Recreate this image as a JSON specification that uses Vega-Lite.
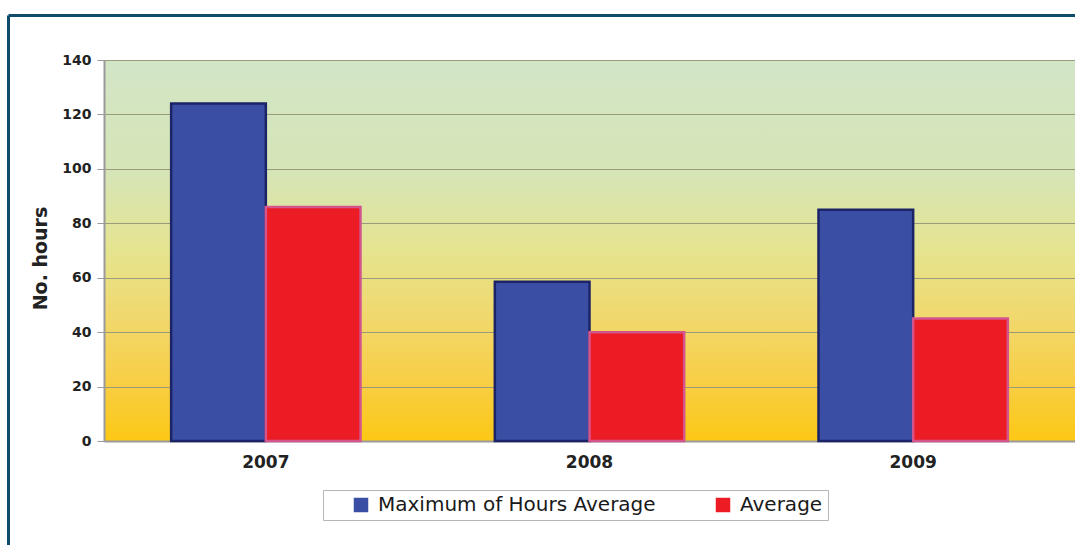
{
  "$schema": "https://vega.github.io/schema/vega-lite/v6.json",
  "width": 971,
  "height": 381,
  "autosize": {"type": "none"},
  "padding": {"left": 104, "top": 60, "right": 0, "bottom": 104},
  "background": "white",
  "config": {
    "font": "DejaVu Sans",
    "view": {
      "stroke": null,
      "fill": {
        "gradient": "linear",
        "x1": 0, "y1": 0, "x2": 0, "y2": 1,
        "stops": [
          {"offset": 0, "color": "#d2e5c6"},
          {"offset": 0.3, "color": "#d6e5b6"},
          {"offset": 0.5, "color": "#e5e48f"},
          {"offset": 0.68, "color": "#f1d86c"},
          {"offset": 0.85, "color": "#f8ce44"},
          {"offset": 1, "color": "#fcc814"}
        ]
      }
    }
  },
  "data": {
    "values": [
      {"year": "2007", "series": "Maximum of Hours Average", "hours": 124},
      {"year": "2007", "series": "Average", "hours": 86},
      {"year": "2008", "series": "Maximum of Hours Average", "hours": 58.5},
      {"year": "2008", "series": "Average", "hours": 40},
      {"year": "2009", "series": "Maximum of Hours Average", "hours": 85},
      {"year": "2009", "series": "Average", "hours": 45}
    ]
  },
  "resolve": {"scale": {"x": "independent", "y": "independent"}},
  "layer": [
    {
      "mark": {"type": "bar", "strokeWidth": 2.5},
      "encoding": {
        "x": {
          "field": "year",
          "type": "nominal",
          "scale": {"paddingInner": 0.415, "paddingOuter": 0.2075},
          "axis": {
            "orient": "bottom",
            "title": null,
            "labelAngle": 0,
            "labelFont": "DejaVu Sans",
            "labelFontWeight": "bold",
            "labelFontSize": 17,
            "labelColor": "#222222",
            "labelPadding": 13,
            "ticks": false,
            "domainColor": "#9a9a9a",
            "domainWidth": 2
          }
        },
        "xOffset": {
          "field": "series",
          "type": "nominal",
          "sort": ["Maximum of Hours Average", "Average"],
          "scale": {"paddingInner": 0, "paddingOuter": 0}
        },
        "y": {
          "field": "hours",
          "type": "quantitative",
          "scale": {"domain": [0, 140], "nice": false},
          "axis": {
            "orient": "left",
            "title": "No. hours",
            "titleFont": "DejaVu Sans",
            "titleFontWeight": "bold",
            "titleFontSize": 19,
            "titleColor": "#222222",
            "titlePadding": 11,
            "titleY": 198,
            "values": [0, 20, 40, 60, 80, 100, 120, 140],
            "labelFont": "DejaVu Sans",
            "labelFontWeight": "bold",
            "labelFontSize": 14,
            "labelColor": "#222222",
            "labelPadding": 6,
            "tickSize": 7,
            "tickColor": "#9a9a9a",
            "domainColor": "#9a9a9a",
            "domainWidth": 2,
            "gridColor": "#9a9a7c",
            "gridWidth": 1
          }
        },
        "color": {
          "field": "series",
          "type": "nominal",
          "sort": ["Maximum of Hours Average", "Average"],
          "scale": {"range": ["#3a4fa3", "#ec1c24"]},
          "legend": {
            "title": null,
            "orient": "none",
            "direction": "horizontal",
            "legendX": 219,
            "legendY": 430,
            "symbolType": "square",
            "symbolSize": 210,
            "symbolStrokeWidth": 2,
            "symbolOffset": 23,
            "labelFont": "DejaVu Sans",
            "labelFontSize": 20,
            "labelColor": "#1a1a1a",
            "labelOffset": 7,
            "columnPadding": 34,
            "padding": 5,
            "strokeColor": "#b5b5b5",
            "fillColor": "white",
            "labelLimit": 400
          }
        },
        "stroke": {
          "field": "series",
          "type": "nominal",
          "sort": ["Maximum of Hours Average", "Average"],
          "scale": {"range": ["#1c2468", "#d4558e"]},
          "legend": {"title": null}
        }
      }
    },
    {
      "mark": {"type": "point", "opacity": 0},
      "encoding": {
        "x": {
          "field": "hours",
          "type": "quantitative",
          "scale": {"range": [-96, 971], "nice": false, "zero": true},
          "axis": {
            "orient": "top",
            "offset": 45,
            "title": null,
            "labels": false,
            "ticks": false,
            "grid": false,
            "domainColor": "#0f4c6c",
            "domainWidth": 3
          }
        },
        "y": {
          "field": "hours",
          "type": "quantitative",
          "scale": {"range": [485, -45], "nice": false, "zero": true},
          "axis": {
            "orient": "left",
            "offset": 96,
            "title": null,
            "labels": false,
            "ticks": false,
            "grid": false,
            "domainColor": "#0f4c6c",
            "domainWidth": 3
          }
        }
      }
    }
  ]
}
